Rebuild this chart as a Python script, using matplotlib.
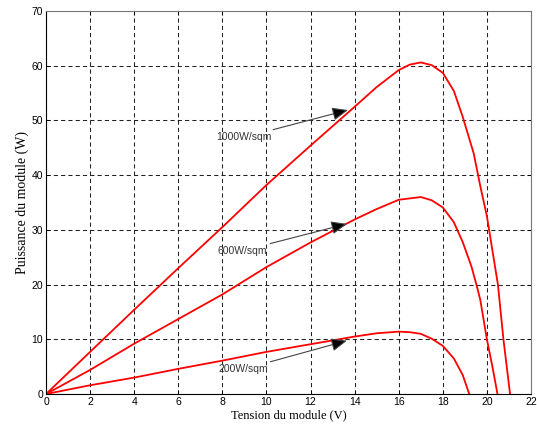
import numpy as np
import matplotlib
matplotlib.use('Agg')
import matplotlib.pyplot as plt

# P-V curves, per irradiance
v_1000 = [0, 2, 4, 6, 8, 10, 12, 14, 15, 16, 16.5, 17, 17.5, 18, 18.5, 18.9, 19.4, 19.7, 20.0, 20.3, 20.5, 20.75, 21.05]
p_1000 = [0, 7.7, 15.4, 23, 30.5, 38.2, 45.4, 52.5, 56.1, 59.2, 60.2, 60.6, 60.1, 58.7, 55.4, 50.7, 44, 38, 32.5, 25, 20, 10, 0]

v_600 = [0, 2, 4, 6, 8, 10, 12, 14, 15, 16, 17, 17.5, 18, 18.5, 18.9, 19.3, 19.55, 19.7, 20.0, 20.25, 20.48]
p_600 = [0, 4.4, 9.2, 13.7, 18.2, 23.2, 27.7, 31.9, 33.8, 35.5, 36.0, 35.4, 34.1, 31.4, 27.8, 23.3, 19.6, 17.2, 10, 5, 0]

v_200 = [0, 2, 4, 6, 8, 10, 12, 14, 15, 16, 16.5, 17, 17.5, 18, 18.5, 18.9, 19.2]
p_200 = [0, 1.6, 3.0, 4.6, 6.1, 7.7, 9.1, 10.5, 11.1, 11.4, 11.3, 11.0, 10.1, 8.8, 6.5, 3.5, 0]

labels = ['1000W/sqm', '600W/sqm', '200W/sqm']
arrow_tips = [(13.7, 51.9), (13.65, 31.1), (13.65, 9.75)]
text_pos = [(7.7, 46.9), (7.8, 26.2), (7.8, 4.5)]

fig = plt.figure(figsize=(5.37, 4.30), dpi=100)
ax = fig.add_axes([0.0857, 0.0837, 0.9031, 0.8907])

for v, p in [(v_1000, p_1000), (v_600, p_600), (v_200, p_200)]:
    ax.plot(v, p, color='red', lw=1.3)

for lab, tip, tp in zip(labels, arrow_tips, text_pos):
    ax.annotate(lab, xy=tip, xytext=tp, ha='left', va='center',
                fontsize=7.5, family='Liberation Sans', color='#333333',
                arrowprops=dict(arrowstyle='-|>,head_length=0.6,head_width=0.25',
                                ec='#444444', fc='black',
                                lw=0.8, mutation_scale=16, shrinkA=0, shrinkB=0))

ax.set_xlim(0, 22)
ax.set_ylim(0, 70)
ax.set_xticks(np.arange(0, 23, 2))
ax.set_yticks(np.arange(0, 71, 10))
ax.grid(True, color='#222222', linestyle=(0, (4, 3)), lw=0.75)
ax.tick_params(direction='in', length=3, width=0.6, labelsize=7.5, top=True, right=True, pad=2)
for t in ax.get_xticklabels() + ax.get_yticklabels():
    t.set_family('Liberation Sans')
for s in ['left', 'bottom']:
    ax.spines[s].set_color('black')
for s in ['top', 'right']:
    ax.spines[s].set_color('#777777')

ax.set_xlabel('Tension du module (V)', family='Liberation Serif', fontsize=9, labelpad=2)
ax.set_ylabel('Puissance du module (W)', family='Liberation Serif', fontsize=10, labelpad=2)

fig.savefig('out.png', dpi=100)
